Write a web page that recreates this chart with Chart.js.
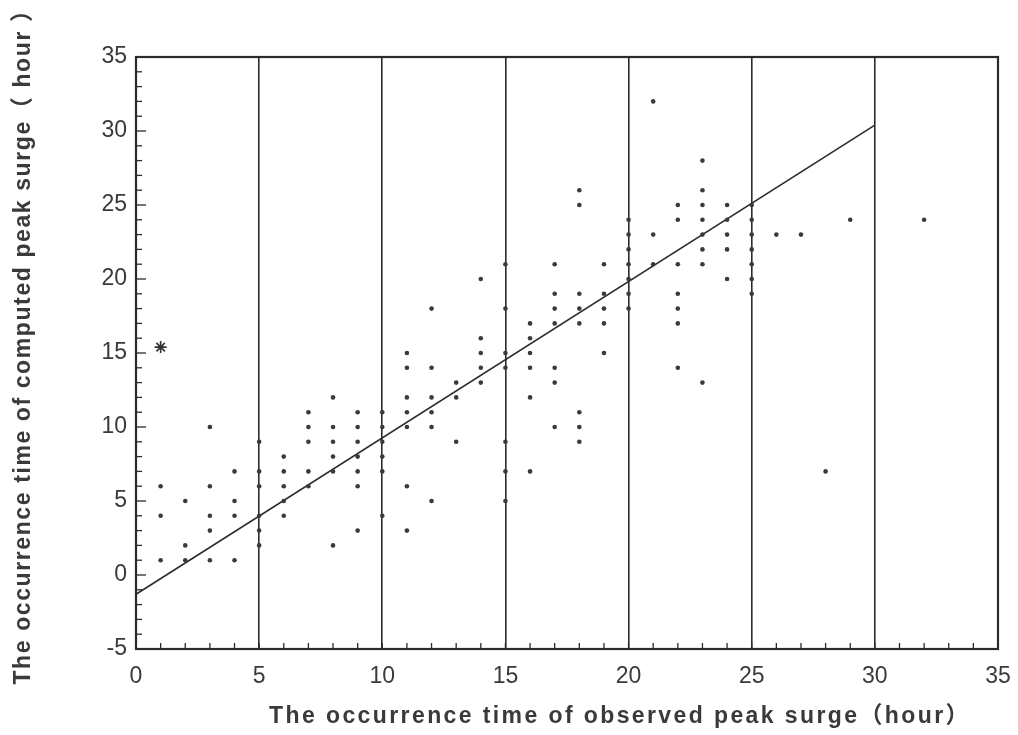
<!DOCTYPE html>
<html>
<head>
<meta charset="utf-8">
<script src="https://cdn.jsdelivr.net/npm/chart.js@4.4.1/dist/chart.umd.min.js"></script>
<style>
html,body{margin:0;padding:0;background:#fff;}
#wrap{width:1018px;height:735px;position:relative;}
</style>
</head>
<body>
<div id="wrap"><canvas id="c" width="1018" height="735"></canvas></div>
<script>
// Observed peak-surge time (hour) for each sample
const observedHours = [
  1,1,1,
  2,2,2,
  3,3,3,3,3,
  4,4,4,4,
  5,5,5,5,5,5,
  6,6,6,6,6,
  7,7,7,7,7,
  8,8,8,8,8,8,
  9,9,9,9,9,9,9,
  10,10,10,10,10,10,
  11,11,11,11,11,11,11,
  12,12,12,12,12,12,
  13,13,13,
  14,14,14,14,14,
  15,15,15,15,15,15,15,
  16,16,16,16,16,16,
  17,17,17,17,17,17,17,
  18,18,18,18,18,18,18,18,
  19,19,19,19,19,
  20,20,20,20,20,20,20,
  21,21,21,
  22,22,22,22,22,22,22,
  23,23,23,23,23,23,23,23,
  24,24,24,24,24,
  25,25,25,25,25,25,25,
  26,27,28,29,32
];
// Computed peak-surge time (hour) for each sample
const computedHours = [
  1,4,6,
  1,2,5,
  1,3,4,6,10,
  1,4,5,7,
  2,3,4,6,7,9,
  4,5,6,7,8,
  6,7,9,10,11,
  2,7,8,9,10,12,
  3,6,7,8,9,10,11,
  4,7,8,9,10,11,
  3,6,10,11,12,14,15,
  5,10,11,12,14,18,
  9,12,13,
  13,14,15,16,20,
  5,7,9,14,15,18,21,
  7,12,14,15,16,17,
  10,13,14,17,18,19,21,
  9,10,11,17,18,19,25,26,
  15,17,18,19,21,
  18,19,20,21,22,23,24,
  21,23,32,
  14,17,18,19,21,24,25,
  13,21,22,23,24,25,26,28,
  20,22,23,24,25,
  19,20,21,22,23,24,25,
  23,23,7,24,24
];
// Special marked sample (star)
const starObserved = [1];
const starComputed = [15.4];
// Regression line end points
const fitX = [0, 30];
const fitY = [-1.3, 30.4];
// Axis ticks
const xTickValues = [0,5,10,15,20,25,30,35];
const yTickValues = [-5,0,5,10,15,20,25,30,35];
const xTitle = "The occurrence time of observed peak surge（hour）";
const yTitle = "The occurrence time of computed peak surge（ hour ）";

const ink = '#2b2b2b';
const textInk = '#3a3a3a';

const scatterPts = observedHours.map((x,i)=>({x:x, y:computedHours[i]}));
const starPts = starObserved.map((x,i)=>({x:x, y:starComputed[i]}));
const fitPts = fitX.map((x,i)=>({x:x, y:fitY[i]}));

const framePlugin = {
  id:'frame',
  beforeDatasetsDraw(chart){
    const {ctx, chartArea:a, scales:{x, y}} = chart;
    ctx.save();
    ctx.strokeStyle = ink;
    ctx.lineWidth = 1.3;
    for(let v=-5; v<=35; v++){
      const py = y.getPixelForValue(v);
      const len = (v % 5 === 0) ? 10 : 6;
      ctx.beginPath(); ctx.moveTo(a.left, py); ctx.lineTo(a.left+len, py); ctx.stroke();
    }
    for(let v=0; v<=35; v++){
      const px = x.getPixelForValue(v);
      ctx.beginPath(); ctx.moveTo(px, a.bottom); ctx.lineTo(px, a.bottom-6); ctx.stroke();
    }
    ctx.lineWidth = 2.2;
    ctx.strokeRect(a.left, a.top, a.right-a.left, a.bottom-a.top);
    ctx.restore();
  },
  afterDraw(chart){
    const {ctx} = chart;
    ctx.save();
    ctx.fillStyle = textInk;
    ctx.font = 'bold 23px "Liberation Sans", Arial, "Noto Sans CJK SC", sans-serif';
    ctx.textAlign = 'center';
    ctx.textBaseline = 'alphabetic';
    ctx.letterSpacing = '2.4px';
    ctx.fillText(xTitle, 620, 723);
    ctx.letterSpacing = '1.6px';
    ctx.translate(30, 341);
    ctx.rotate(-Math.PI/2);
    ctx.fillText(yTitle, 0, 0);
    ctx.restore();
  }
};

new Chart(document.getElementById('c'), {
  type:'scatter',
  data:{
    datasets:[
      {label:'samples', data:scatterPts, pointRadius:2.3, pointBackgroundColor:'#3a3a3a', pointBorderWidth:0, showLine:false},
      {label:'marked', data:starPts, pointStyle:'star', pointRadius:6, pointBorderColor:'#333', pointBorderWidth:1.6, showLine:false},
      {label:'fit', type:'line', data:fitPts, borderColor:ink, borderWidth:1.6, pointRadius:0, fill:false, tension:0}
    ]
  },
  plugins:[framePlugin],
  options:{
    responsive:false,
    animation:false,
    devicePixelRatio:1,
    layout:{padding:{left:0, top:57, right:20, bottom:0}},
    plugins:{legend:{display:false}, tooltip:{enabled:false}},
    scales:{
      x:{
        type:'linear', min:0, max:35,
        afterBuildTicks(s){ s.ticks = xTickValues.map(v=>({value:v})); },
        afterFit(s){ s.height = 86; s.paddingRight = 0; s.paddingLeft = 0; },
        border:{display:false},
        grid:{drawTicks:false, lineWidth:1.6,
          color:(c)=> (c.tick && c.tick.value>0 && c.tick.value<35) ? ink : 'rgba(0,0,0,0)'},
        ticks:{padding:14, color:textInk, font:{family:'"Liberation Sans", Arial, sans-serif', size:23}}
      },
      y:{
        type:'linear', min:-5, max:35,
        afterBuildTicks(s){ s.ticks = yTickValues.map(v=>({value:v})); },
        afterFit(s){ s.width = 136; s.paddingTop = 0; s.paddingBottom = 0; },
        border:{display:false},
        grid:{display:false, drawTicks:false},
        ticks:{padding:9, color:textInk, font:{family:'"Liberation Sans", Arial, sans-serif', size:23}}
      }
    }
  }
});
</script>
</body>
</html>
